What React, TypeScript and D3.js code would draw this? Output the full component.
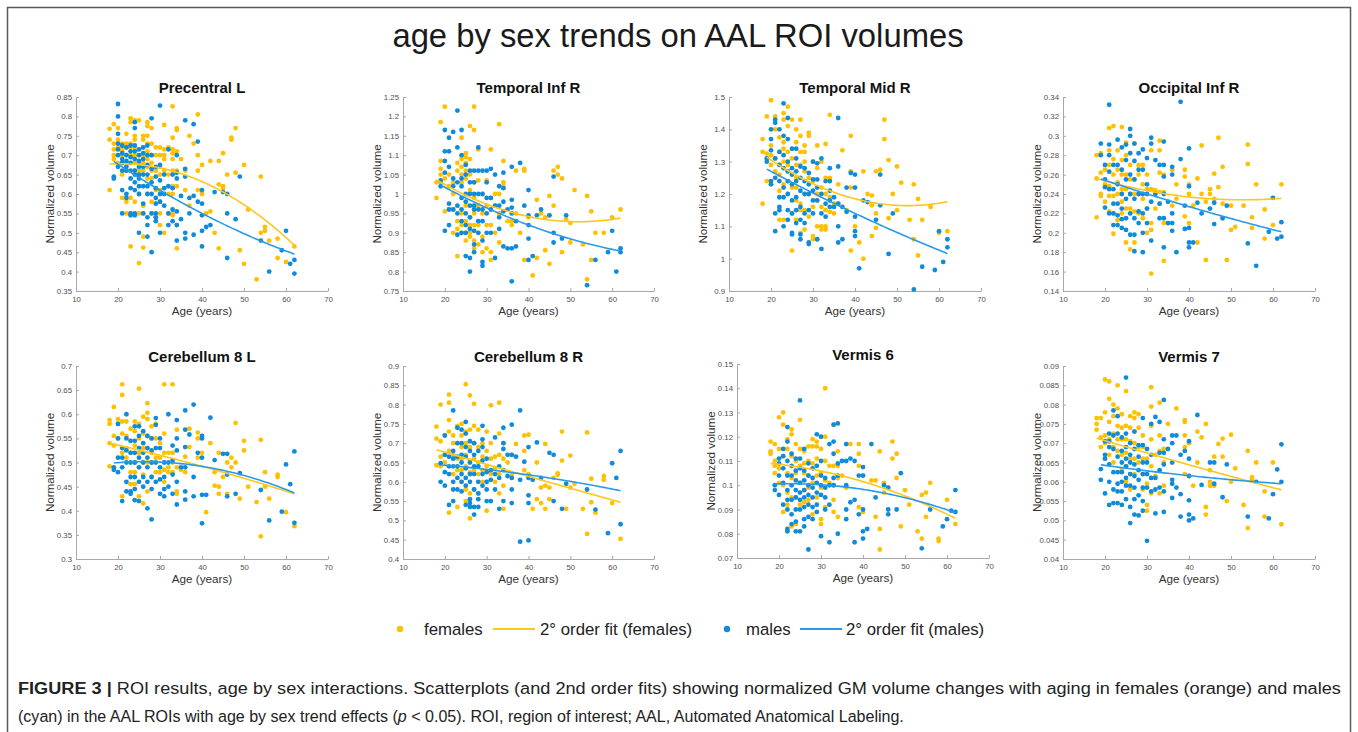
import React, { useEffect, useRef } from 'react';
import * as d3 from 'd3';

type Col = [number, number[]];
type Pt = [number, number];

// ---------- DATA (age, [normalized volumes]) ----------
const precentralF: Col[] = [
  [18, [.768, .74, .61]], [19, [.78, .73, .715, .70, .69]], [20, [.77, .74, .72, .70, .68]],
  [21, [.73, .72, .71, .70, .68, .65, .59]], [22, [.755, .73, .72, .70, .68, .66, .58, .55]],
  [23, [.795, .785, .73, .72, .70, .68, .59, .55, .465]], [24, [.79, .75, .74, .72, .70, .68, .66, .58]],
  [25, [.79, .70, .68, .66, .60, .55, .422]], [26, [.75, .74, .72, .70, .68, .66, .57, .55, .49, .462]],
  [27, [.785, .775, .75, .73, .71, .69, .67, .64, .60]], [28, [.77, .73, .70, .68, .66, .64, .58, .55]],
  [29, [.72, .70, .66, .61, .54]], [30, [.72, .70, .67, .65, .61, .58, .55, .52]],
  [31, [.778, .715, .70, .69, .66, .50]], [32, [.72, .65, .60, .55]],
  [33, [.826, .745, .715, .705, .69, .66, .62, .60, .55, .545]], [34, [.77, .765, .71, .66, .62, .52, .46]],
  [35, [.69]], [36, [.66, .61]], [37, [.75, .57]], [38, [.73]], [39, [.805, .70, .66, .61]],
  [40, [.675, .60]], [41, [.55]], [42, [.685, .555]], [43, [.50]], [44, [.685, .625, .46]],
  [45, [.705, .62, .615]], [46, [.65]], [47, [.745, .74]], [48, [.77, .655]], [49, [.455]],
  [50, [.675, .42]], [51, [.56]], [53, [.38]], [54, [.645, .50]], [55, [.515, .505]], [56, [.48]],
  [58, [.485, .435]], [60, [.425]], [62, [.465]],
];
const precentralM: Col[] = [
  [19, [.645, .64]], [20, [.832, .80, .755, .73, .715, .70, .67]], [21, [.725, .705, .69, .68, .66, .61, .55]],
  [22, [.72, .70, .685, .67, .66, .60, .59]], [23, [.725, .71, .695, .68, .66, .64, .615, .55, .545]],
  [24, [.785, .77, .725, .71, .69, .66, .65, .63, .61, .55, .545]], [25, [.715, .70, .685, .67, .65, .64, .62, .60, .50]],
  [26, [.72, .705, .69, .67, .65, .62, .575, .55]], [27, [.725, .70, .675, .65, .62, .60, .54, .52, .49]],
  [28, [.795, .70, .665, .63, .60, .55, .45]], [29, [.67, .645, .615, .59, .575, .55, .54, .53]],
  [30, [.828, .675, .635, .60, .58, .50]], [31, [.65, .615, .60, .57]], [32, [.715, .62, .55, .52]],
  [33, [.65, .615, .56, .53]], [34, [.70, .655, .64, .555, .52, .48]], [35, [.595, .535]],
  [36, [.79, .665, .645, .50, .485]], [37, [.59, .55]], [38, [.78, .595, .495]], [39, [.735, .58]],
  [40, [.61, .575, .545, .505, .465]], [41, [.515]], [42, [.52]], [43, [.605]], [45, [.605]],
  [46, [.60, .55, .435]], [48, [.535]], [49, [.645]], [54, [.48]], [56, [.40]], [59, [.455]],
  [60, [.505]], [61, [.42]], [62, [.43, .395]],
];

const tempInfF: Col[] = [
  [18, [1.03, .99]], [19, [1.185, 1.085, 1.065, 1.05, 1.03]], [20, [1.225, 1.04, .955]], [21, [1.05, 1.02, .96]],
  [22, [1.03, 1.0, .96, .90]], [23, [1.08, 1.06, .93, .91, .84]], [24, [1.145, 1.09, 1.07, 1.05, 1.03, .95, .92, .90]],
  [25, [1.105, 1.095, 1.08, 1.06, 1.04, .97, .93, .90, .88]], [26, [1.175, 1.09, 1.05, 1.01, .94, .92, .90, .89]],
  [27, [1.225, 1.165, 1.03, .99, .95, .92, .88, .86]], [28, [1.115, 1.035, .97, .92, .90, .87]],
  [29, [1.0, .95, .89, .85]], [30, [1.035, .97, .92, .86]], [31, [1.115, .99, .92, .85, .83]],
  [32, [1.0, .97, .90]], [33, [1.18, 1.0, .95, .875]], [34, [1.085, 1.03, 1.02]], [35, [.93]],
  [36, [.93, .92]], [37, [1.06, .95]], [38, [.90]], [39, [1.065, 1.06, .83]], [40, [.94]], [41, [.79]],
  [42, [.985, .835]], [43, [.95]], [44, [.94, .855]], [45, [.995, .945, .82]], [46, [1.06, .97]],
  [47, [1.07, 1.05]], [48, [1.04, .85]], [49, [.935]], [50, [.925, .875]], [51, [1.01]], [53, [.87]],
  [54, [.995, .78]], [55, [.955, .83]], [56, [.90]], [58, [.90]], [60, [.94]], [62, [.96]],
];
const tempInfM: Col[] = [
  [19, [1.035, 1.02]], [20, [1.165, 1.11, 1.085, 1.055, .905]], [21, [1.145, 1.11, 1.07, .975, .96, .92]],
  [22, [1.16, 1.04, 1.02, .96]], [23, [1.215, 1.12, 1.03, .97, .95, .895]],
  [24, [1.165, 1.10, 1.04, 1.02, .99, .96, .93, .90]], [25, [1.075, 1.05, 1.0, .98, .95, .92, .90, .84]],
  [26, [1.06, 1.03, 1.0, .97, .94, .91, .835, .80]], [27, [1.06, 1.03, 1.0, .97, .96, .905, .87, .85]],
  [28, [1.12, 1.06, 1.0, .96, .93, .90]], [29, [1.06, 1.0, .96, .93, .88, .825, .815]],
  [30, [1.06, 1.03, .99, .95, .90]], [31, [1.065, .99, .96, .90]], [32, [1.05, .97, .835]],
  [33, [1.02, .97, .94, .91]], [34, [1.055, 1.015, .98, .955, .865]], [35, [.96, .86]],
  [36, [1.07, .985, .965, .95, .86, .775]], [37, [.93, .865]], [38, [1.08]], [39, [.97]],
  [40, [1.01, .945, .92, .885, .83]], [41, [.84]], [42, [.945]], [43, [.96]], [45, [.945]],
  [46, [1.045, .90, .875]], [48, [.885]], [49, [.945]], [54, [.765]], [56, [.83]], [59, [.85]],
  [60, [.905]], [61, [.80]], [62, [.86, .85]],
];

const tempMidF: Col[] = [
  [18, [1.37, 1.33, 1.17]], [19, [1.44, 1.325, 1.31, 1.24]], [20, [1.49, 1.35, 1.32, 1.29, 1.23]],
  [21, [1.44, 1.40, 1.31, 1.27]], [22, [1.375, 1.33, 1.29, 1.26, 1.21, 1.12]],
  [23, [1.45, 1.43, 1.36, 1.34, 1.30, 1.23, 1.12]], [24, [1.47, 1.41, 1.33, 1.29, 1.27, 1.24, 1.20]],
  [25, [1.43, 1.31, 1.26, 1.22, 1.14, 1.025]], [26, [1.40, 1.36, 1.29, 1.25, 1.22, 1.18, 1.12]],
  [27, [1.43, 1.38, 1.33, 1.29, 1.17, 1.15, 1.08]], [28, [1.35, 1.33, 1.30, 1.27, 1.20, 1.15, 1.09]],
  [29, [1.39, 1.38, 1.25, 1.20, 1.13]], [30, [1.30, 1.24, 1.16, 1.07, 1.06]],
  [31, [1.35, 1.28, 1.20, 1.18, 1.10, 1.06]], [32, [1.30, 1.22, 1.16, 1.10, 1.09]],
  [33, [1.355, 1.25, 1.20, 1.15, 1.10, 1.09]], [34, [1.445, 1.25, 1.24, 1.19, 1.145]], [35, [1.17, 1.14]],
  [36, [1.23, 1.17]], [37, [1.335]], [38, [1.15]], [39, [1.38, 1.27, 1.22, 1.025]], [40, [1.10]],
  [41, [1.05]], [42, [1.27, 1.0]], [43, [1.20]], [44, [1.195, 1.165, 1.07]], [45, [1.27, 1.14, 1.095]],
  [46, [1.275]], [47, [1.43, 1.37]], [48, [1.305, 1.125]], [49, [1.20]], [50, [1.285, 1.15]], [51, [1.235]],
  [53, [1.12]], [54, [1.23, 1.06]], [55, [1.185, 1.01]], [56, [1.12]], [58, [1.16]], [60, [1.08]], [62, [1.085]],
];
const tempMidM: Col[] = [
  [19, [1.31, 1.30]], [20, [1.40, 1.37, 1.335, 1.24, 1.23]], [21, [1.43, 1.42, 1.31, 1.25, 1.14, 1.085]],
  [22, [1.40, 1.33, 1.29, 1.24, 1.19, 1.16, 1.15]], [23, [1.48, 1.38, 1.32, 1.28, 1.22, 1.19, 1.10]],
  [24, [1.435, 1.37, 1.30, 1.27, 1.24, 1.20, 1.15, 1.12]], [25, [1.34, 1.28, 1.26, 1.23, 1.18, 1.14, 1.08, 1.075]],
  [26, [1.34, 1.31, 1.27, 1.24, 1.19, 1.15, 1.11]], [27, [1.285, 1.25, 1.21, 1.16, 1.12, 1.075, 1.06]],
  [28, [1.28, 1.24, 1.20, 1.14, 1.11]], [29, [1.265, 1.23, 1.20, 1.15, 1.05, 1.045]],
  [30, [1.30, 1.245, 1.21, 1.18, 1.14]], [31, [1.295, 1.245, 1.22, 1.18, 1.06]], [32, [1.31, 1.20, 1.14, 1.03]],
  [33, [1.24, 1.17, 1.13]], [34, [1.28, 1.24, 1.21, 1.18, 1.16]], [35, [1.19, 1.16]],
  [36, [1.435, 1.285, 1.17, 1.10, 1.05]], [37, [1.16, 1.06]], [38, [1.22, 1.145]], [39, [1.265]],
  [40, [1.26, 1.22, 1.13, 1.085, 1.07]], [41, [.97]], [42, [1.18]], [43, [1.175]], [45, [1.12]],
  [46, [1.26, 1.165]], [48, [1.015]], [49, [1.14]], [54, [.905]], [56, [.975]], [59, [.965]],
  [60, [1.085]], [61, [.99]], [62, [1.06, 1.035]],
];

const occInfF: Col[] = [
  [18, [.28, .256, .216]], [19, [.282, .262, .24, .238]], [20, [.265, .25, .232]],
  [21, [.308, .285, .27, .248, .238, .222]], [22, [.31, .276, .26, .238, .22, .199]],
  [23, [.285, .265, .252, .24, .213]], [24, [.309, .275, .26, .245, .232, .22]],
  [25, [.293, .28, .26, .245, .225, .19]], [26, [.27, .255, .24, .225, .183]],
  [27, [.292, .255, .24, .222, .19]], [28, [.27, .26, .24, .22]], [29, [.27, .25, .235, .215]],
  [30, [.26, .245, .225, .20]], [31, [.285, .245, .21, .203, .158]], [32, [.244, .225]],
  [33, [.295, .285, .262, .242, .23]], [34, [.26, .242, .21, .171]], [35, [.21]], [36, [.265, .228]],
  [37, [.25, .235]], [39, [.265, .258, .217]], [40, [.25, .24, .21]], [41, [.228]], [42, [.256, .19]],
  [43, [.29, .24]], [44, [.232, .172]], [45, [.245, .24]], [46, [.261, .235]], [47, [.298, .247]],
  [48, [.268, .23]], [49, [.172]], [50, [.228, .203]], [51, [.206]], [53, [.228]], [54, [.291, .271]],
  [55, [.216, .205]], [56, [.25]], [58, [.224, .194]], [60, [.208]], [62, [.25]],
];
const occInfM: Col[] = [
  [19, [.292, .28]], [20, [.27, .255, .247, .226]], [21, [.332, .291, .28, .263, .245, .22]],
  [22, [.27, .245, .23, .22, .208]], [23, [.296, .27, .25, .23, .218, .208]],
  [24, [.288, .265, .24, .225, .214, .205]], [25, [.291, .275, .255, .235, .215, .203]],
  [26, [.307, .30, .282, .26, .24, .22, .198]], [27, [.292, .274, .255, .235, .215, .198, .181]],
  [28, [.282, .265, .24, .222, .21]], [29, [.286, .265, .24, .22, .20, .18]], [30, [.277, .25, .24, .225, .21]],
  [31, [.298, .292, .232, .192]], [32, [.275, .24]], [33, [.27, .23, .215]],
  [34, [.294, .27, .258, .24, .215, .185]], [35, [.232, .21]], [36, [.268, .26, .22, .21, .202]],
  [37, [.18]], [38, [.335, .276]], [39, [.228, .204]], [40, [.287, .248, .205, .19, .185]], [41, [.19]],
  [42, [.231]], [43, [.22]], [45, [.225]], [46, [.231, .209]], [48, [.215]], [49, [.228]], [54, [.189]],
  [56, [.166]], [59, [.201]], [60, [.236]], [61, [.194]], [62, [.211, .196]],
];

const cer8LF: Col[] = [
  [18, [.588, .58, .54, .492]], [19, [.615, .555, .535]], [20, [.59, .58, .55]],
  [21, [.662, .64, .585, .56, .52, .43]], [22, [.585, .555, .53, .51]], [23, [.57, .545, .52, .48, .455]],
  [24, [.585, .565, .535, .50, .48, .455]], [25, [.653, .58, .55, .52, .49, .43]],
  [26, [.595, .56, .53, .50, .475, .415]], [27, [.623, .603, .59, .555, .53, .50, .44]],
  [28, [.575, .55, .52, .50, .47]], [29, [.58, .55, .51, .48]], [30, [.54, .51, .48]],
  [31, [.662, .56, .52, .485, .46]], [32, [.52, .49, .48]], [33, [.662, .52, .50, .48]],
  [34, [.568, .49, .44, .435]], [35, [.485]], [36, [.512, .48]], [37, [.57, .532]], [39, [.562, .55, .51]],
  [40, [.52]], [41, [.397]], [42, [.54]], [43, [.48, .452]], [44, [.52, .45, .435]], [45, [.47]],
  [46, [.50, .435]], [47, [.51, .49]], [48, [.582, .50]], [49, [.425]], [50, [.545, .525]], [51, [.45]],
  [53, [.418]], [54, [.547, .347]], [55, [.48, .45]], [56, [.425]], [58, [.475, .47]], [60, [.397]], [62, [.368]],
];
const cer8LM: Col[] = [
  [19, [.49, .485]], [20, [.58, .55, .51, .48]], [21, [.53, .51, .49, .42]], [22, [.60, .55, .525, .50, .46, .44]],
  [23, [.545, .52, .50, .47, .44, .435]], [24, [.575, .545, .52, .50, .47, .445, .422]],
  [25, [.575, .555, .53, .51, .49, .46, .42]], [26, [.565, .54, .52, .50, .47, .45]],
  [27, [.555, .53, .51, .49, .46, .405]], [28, [.55, .525, .50, .47, .445, .382]],
  [29, [.592, .578, .53, .50, .46]], [30, [.55, .53, .49, .465, .435]], [31, [.50, .47, .445, .43]],
  [32, [.60, .50, .45]], [33, [.535, .505, .475, .435]], [34, [.588, .55, .525, .46, .413]], [35, [.49]],
  [36, [.608, .568, .532, .49, .44, .423]], [37, [.558]], [38, [.62, .47, .43]], [39, [.52]],
  [40, [.555, .55, .51, .433, .374]], [41, [.433]], [42, [.593]], [43, [.505]], [45, [.518]],
  [46, [.518, .475, .43]], [48, [.435]], [49, [.478]], [54, [.443]], [56, [.38]], [59, [.398]],
  [60, [.496]], [61, [.455]], [62, [.523, .375]],
];

const cer8RF: Col[] = [
  [18, [.743, .712, .643]], [19, [.80, .705, .665, .64]], [20, [.72, .67, .65]],
  [21, [.826, .805, .76, .73, .68, .52]], [22, [.72, .70, .67, .62]], [23, [.745, .70, .66, .63, .535]],
  [24, [.75, .72, .69, .66, .63, .60]], [25, [.853, .73, .70, .67, .64, .58, .55]],
  [26, [.824, .735, .69, .655, .625, .57, .505]], [27, [.802, .745, .70, .66, .63, .58]],
  [28, [.735, .69, .65, .62, .57]], [29, [.70, .665, .63, .60]], [30, [.73, .68, .64, .60, .525]],
  [31, [.798, .70, .66, .62]], [32, [.665, .635, .60]], [33, [.805, .725, .67, .62, .57]],
  [34, [.70, .66, .59, .53]], [35, [.65]], [36, [.67, .62]], [37, [.698]], [39, [.72, .68, .63]],
  [40, [.722, .62]], [41, [.53]], [42, [.65, .555]], [43, [.585, .545]], [44, [.698, .59, .53]],
  [45, [.585, .555]], [46, [.61]], [47, [.622, .618]], [48, [.73, .655]], [49, [.53]], [50, [.668, .585]],
  [51, [.595]], [53, [.53]], [54, [.728, .465]], [55, [.608, .547]], [56, [.52]], [58, [.615, .605]],
  [60, [.545]], [62, [.452]],
];
const cer8RM: Col[] = [
  [19, [.648, .60]], [20, [.72, .67, .625, .59]], [21, [.665, .64, .62, .54]],
  [22, [.785, .68, .66, .64, .60, .58, .55]], [23, [.74, .70, .665, .64, .61, .58]],
  [24, [.735, .70, .67, .65, .62, .60, .575]], [25, [.755, .725, .69, .665, .635, .61, .59, .54]],
  [26, [.705, .68, .65, .62, .60, .555, .545, .535]], [27, [.70, .67, .64, .62, .58, .535, .515]],
  [28, [.68, .64, .60, .57, .555, .535]], [29, [.745, .71, .69, .655, .62, .59]],
  [30, [.66, .625, .60, .58, .55]], [31, [.63, .605, .55]], [32, [.715, .62, .58]], [33, [.64, .61, .53]],
  [34, [.74, .70, .685, .63, .55]], [35, [.67, .615]], [36, [.748, .67, .61, .58, .545]], [37, [.665]],
  [38, [.785, .605, .445]], [39, [.652]], [40, [.69, .61, .565, .545, .448]], [41, [.605]], [42, [.702]],
  [43, [.61]], [45, [.675]], [46, [.67, .55]], [48, [.53]], [49, [.595]], [54, [.58]], [56, [.528]],
  [59, [.467]], [60, [.648]], [61, [.61]], [62, [.68, .49]],
];

const vermis6F: Col[] = [
  [18, [.118, .114, .113]], [19, [.117, .11, .108, .105]], [20, [.128, .115, .107, .101]],
  [21, [.13, .125, .112, .10, .089]], [22, [.119, .115, .105, .097, .092]], [23, [.123, .121, .112, .103, .095, .083]],
  [24, [.117, .11, .105, .095, .084]], [25, [.127, .115, .108, .101, .092]], [26, [.114, .109, .105, .098, .093]],
  [27, [.116, .11, .104, .099, .094]], [28, [.119, .116, .109, .101, .088]], [29, [.118, .116, .111, .104, .095]],
  [30, [.115, .105, .099, .086, .084]], [31, [.14, .12, .11, .102, .091]], [32, [.108, .101]],
  [33, [.125, .108, .10, .094, .089]], [34, [.114, .108, .103, .087]], [35, [.104]], [36, [.099]],
  [37, [.117]], [39, [.117, .113, .108, .091]], [40, [.104, .089]], [42, [.102]], [43, [.102, .087]],
  [44, [.114, .082, .0735]], [45, [.101, .097]], [46, [.099]], [47, [.118, .111]], [48, [.113, .103]],
  [49, [.083]], [50, [.098]], [51, [.092]], [53, [.081]], [54, [.096, .078]], [55, [.097, .087]],
  [56, [.101]], [58, [.078, .077]], [60, [.094]], [62, [.084]],
];
const vermis6M: Col[] = [
  [19, [.10, .098]], [20, [.111, .109, .104, .096]], [21, [.115, .112, .107, .101, .092]],
  [22, [.124, .118, .11, .104, .098, .094, .09, .082, .081]], [23, [.113, .108, .104, .10, .094, .088, .084]],
  [24, [.111, .106, .102, .098, .095, .09, .085, .081]], [25, [.135, .111, .107, .101, .097, .094, .09, .081]],
  [26, [.115, .106, .102, .098, .095, .091, .086, .083]], [27, [.109, .104, .10, .096, .092, .087, .0735]],
  [28, [.107, .103, .099, .095, .091, .086]], [29, [.121, .108, .101, .097, .092, .089]],
  [30, [.12, .11, .104, .10, .096, .079]], [31, [.103, .099, .095, .09]], [32, [.117, .10, .092, .0765]],
  [33, [.125, .118, .113, .103, .10]], [34, [.1255, .109, .104, .08]], [35, [.11]],
  [36, [.117, .11, .10, .09, .086]], [37, [.111, .093]], [38, [.11, .094, .0765]], [39, [.104, .088]],
  [40, [.1075, .104, .09, .081, .078]], [41, [.082]], [42, [.117]], [43, [.095]], [45, [.10]],
  [46, [.099, .09, .088]], [48, [.09]], [49, [.105]], [54, [.074]], [56, [.09]], [59, [.083]],
  [60, [.086]], [61, [.0895]], [62, [.098, .089]],
];

const vermis7F: Col[] = [
  [18, [.0765, .075, .0735]], [19, [.0765, .0715, .069]], [20, [.0865, .078, .072, .07, .066]],
  [21, [.086, .0815, .0755, .071, .067]], [22, [.08, .077, .0725, .069, .065]], [23, [.085, .079, .0745, .071, .068]],
  [24, [.0775, .074, .071, .067, .063]], [25, [.0835, .0745, .071, .0675, .064, .06]],
  [26, [.077, .074, .0705, .066, .062, .058]], [27, [.078, .0765, .073, .07, .066, .062]],
  [28, [.0775, .074, .069, .065]], [29, [.072, .069, .066, .062, .058]], [30, [.066, .0595, .054, .0525]],
  [31, [.0845, .0795, .0745, .071, .064, .061, .057]], [32, [.067, .0615]], [33, [.0805, .072, .068, .057]],
  [34, [.0685, .065, .059]], [35, [.075]], [37, [.079]], [39, [.076, .0755, .072, .069, .062]],
  [40, [.07, .0615]], [41, [.059]], [42, [.073, .065]], [43, [.0715]], [44, [.075, .0535, .0515]],
  [45, [.063, .06, .059]], [46, [.0665, .059]], [47, [.0698]], [48, [.0712, .0665]], [49, [.055]],
  [50, [.0722, .06]], [51, [.0635]], [53, [.054]], [54, [.068, .048]], [55, [.0612, .0605]], [56, [.065]],
  [58, [.0575, .051]], [60, [.065]], [62, [.049]],
];
const vermis7M: Col[] = [
  [19, [.0633, .0605]], [20, [.0705, .067, .066, .057]], [21, [.0725, .0705, .069, .0645, .06, .054]],
  [22, [.0785, .072, .0685, .0625, .058, .0545]], [23, [.077, .0725, .0665, .0625, .0595, .0575, .0545]],
  [24, [.0715, .068, .065, .0625, .06, .0575, .054]], [25, [.087, .0725, .069, .066, .064, .061, .059, .0555]],
  [26, [.07, .067, .065, .062, .059, .0535, .0493]], [27, [.073, .0685, .0645, .0615, .0585, .0555, .0515]],
  [28, [.0695, .0665, .063, .0605, .0565, .0513]], [29, [.0765, .0695, .065, .062, .0585, .055, .0525]],
  [30, [.0685, .065, .062, .0585, .0447]], [31, [.075, .067, .061, .0575]], [32, [.0768, .061, .058, .0518]],
  [33, [.0755, .0675, .063, .0585]], [34, [.0812, .071, .0675, .0645, .0575, .0522]], [35, [.0685]],
  [36, [.072, .07, .065, .0605, .0595, .0558]], [37, [.072, .0585]], [38, [.067, .0568, .051]], [39, [.068]],
  [40, [.0705, .066, .0615, .0552, .0515, .05]], [41, [.0505]], [42, [.0773]], [43, [.0592]], [45, [.065]],
  [46, [.065, .0595]], [48, [.056]], [49, [.0645]], [54, [.051]], [56, [.06]], [59, [.0505]],
  [60, [.0568]], [61, [.0632]], [62, [.0697, .06]],
];

// 2nd-order fit curves, read at three ages each (start, 40, 62)
const fitsF: Pt[][] = [
  [[18, .677], [40, .632], [62, .468]],
  [[18, 1.037], [40, .942], [62, .938]],
  [[19, 1.314], [40, 1.185], [62, 1.176]],
  [[18, .256], [40, .237], [62, .2355]],
  [[18, .540], [40, .492], [62, .435]],
  [[18, .683], [40, .614], [62, .547]],
  [[18, .109], [40, .1015], [62, .0864]],
  [[18, .0713], [40, .0644], [62, .0579]],
];
const fitsM: Pt[][] = [
  [[19, .684], [40, .550], [62, .445]],
  [[19, 1.023], [40, .920], [62, .853]],
  [[19, 1.277], [40, 1.140], [62, 1.016]],
  [[19, .2555], [40, .227], [62, .201]],
  [[19, .499], [40, .492], [62, .437]],
  [[19, .644], [40, .618], [62, .577]],
  [[19, .1005], [40, .0983], [62, .0887]],
  [[19, .0644], [40, .0616], [62, .0595]],
];

const titles = ['Precentral L', 'Temporal Inf R', 'Temporal Mid R', 'Occipital Inf R',
  'Cerebellum 8 L', 'Cerebellum 8 R', 'Vermis 6', 'Vermis 7'];
const femaleData = [precentralF, tempInfF, tempMidF, occInfF, cer8LF, cer8RF, vermis6F, vermis7F];
const maleData = [precentralM, tempInfM, tempMidM, occInfM, cer8LM, cer8RM, vermis6M, vermis7M];
const yDomains: [number, number, number][] = [
  [0.35, 0.85, 0.05], [0.75, 1.25, 0.05], [0.9, 1.5, 0.1], [0.14, 0.34, 0.02],
  [0.3, 0.7, 0.05], [0.4, 0.9, 0.05], [0.07, 0.15, 0.01], [0.04, 0.09, 0.005],
];
const xTicks = [10, 20, 30, 40, 50, 60, 70];

// ---------- LAYOUT ----------
const boxes: [number, number, number, number][] = [
  [76, 97, 328, 291], [403, 97, 654, 291], [729, 97, 981, 291], [1063, 97, 1315, 291],
  [76, 366, 328, 559], [403, 366, 654, 559], [737, 364, 989, 558], [1063, 366, 1315, 559],
];
const F_COL = '#FFC000';
const M_COL = '#0E8BDB';
const F_LINE = '#FFC61E';
const M_LINE = '#2A9AE8';
const AX = '#a8a8a8';
const TICK_TXT = '#505050';
const FONT = 'Liberation Sans, Arial, Helvetica, sans-serif';

const flatten = (cols: Col[]): Pt[] => cols.flatMap(([a, vs]) => vs.map(v => [a, v] as Pt));
const quad = (p: Pt[]) => (x: number) => {
  const [[x0, y0], [x1, y1], [x2, y2]] = p;
  return y0 * ((x - x1) * (x - x2)) / ((x0 - x1) * (x0 - x2))
    + y1 * ((x - x0) * (x - x2)) / ((x1 - x0) * (x1 - x2))
    + y2 * ((x - x0) * (x - x1)) / ((x2 - x0) * (x2 - x1));
};
const fmt = (v: number) => String(+v.toFixed(4));

function Panel({ i }: { i: number }) {
  const gx = useRef<SVGGElement>(null);
  const gy = useRef<SVGGElement>(null);
  const [l, t, r, b] = boxes[i];
  const [y0, y1, step] = yDomains[i];
  const x = d3.scaleLinear().domain([10, 70]).range([l, r]);
  const y = d3.scaleLinear().domain([y0, y1]).range([b, t]);
  const yTicks = d3.range(0, Math.round((y1 - y0) / step) + 1).map(k => +(y0 + k * step).toFixed(4));

  useEffect(() => {
    const style = (g: d3.Selection<SVGGElement, unknown, null, undefined>) => {
      g.attr('font-size', 7.8).attr('font-family', FONT);
      g.select('.domain').attr('stroke', AX).attr('stroke-width', 1);
      g.selectAll('.tick line').attr('stroke', AX);
      g.selectAll('.tick text').attr('fill', TICK_TXT);
    };
    d3.select(gx.current!).call(
      d3.axisBottom(x).tickValues(xTicks).tickFormat(d => fmt(+d)).tickSizeInner(-3).tickSizeOuter(0).tickPadding(5)
    ).call(style);
    d3.select(gy.current!).call(
      d3.axisLeft(y).tickValues(yTicks).tickFormat(d => fmt(+d)).tickSizeInner(-3).tickSizeOuter(0).tickPadding(4)
    ).call(style);
  });

  const line = d3.line<Pt>().x(d => x(d[0])).y(d => y(d[1]));
  const curve = (p: Pt[]) => {
    const f = quad(p);
    const xs = d3.range(p[0][0], 62.001, 0.5);
    return line(xs.map(a => [a, f(a)] as Pt)) || '';
  };
  const fPts = flatten(femaleData[i]);
  const mPts = flatten(maleData[i]);
  const cx = (l + r) / 2;
  return (
    <g>
      <text x={cx} y={t - 4} textAnchor="middle" fontFamily={FONT} fontWeight="bold" fontSize={15} fill="#111">{titles[i]}</text>
      <g ref={gx} transform={`translate(0,${b})`} />
      <g ref={gy} transform={`translate(${l},0)`} />
      <text x={cx} y={b + 24} textAnchor="middle" fontFamily={FONT} fontSize={11.7} fill="#333">Age (years)</text>
      <text transform={`translate(${l - 22},${(t + b) / 2}) rotate(-90)`} textAnchor="middle" fontFamily={FONT} fontSize={11.6} fill="#333">Normalized volume</text>
      {fPts.map((d, k) => <circle key={'f' + k} cx={x(d[0])} cy={y(d[1])} r={2.4} fill={F_COL} />)}
      {mPts.map((d, k) => <circle key={'m' + k} cx={x(d[0])} cy={y(d[1])} r={2.4} fill={M_COL} />)}
      <path d={curve(fitsF[i])} fill="none" stroke={F_LINE} strokeWidth={1.6} />
      <path d={curve(fitsM[i])} fill="none" stroke={M_LINE} strokeWidth={1.6} />
    </g>
  );
}

function Caption() {
  const l1 = useRef<SVGTextElement>(null);
  const l2 = useRef<SVGTextElement>(null);
  useEffect(() => {
    const fit = (el: SVGTextElement | null, y: number, w: number) => {
      if (!el) return;
      el.removeAttribute('transform');
      const nat = el.getComputedTextLength();
      el.setAttribute('transform', `translate(18,${y}) scale(${w / nat},1)`);
    };
    fit(l1.current, 694, 1323);
    fit(l2.current, 722, 887);
  }, []);
  const st = { fontFamily: FONT, fontSize: 17, fill: '#222' } as const;
  return (
    <g>
      <text ref={l1} x={0} y={0} {...st}>
        <tspan fontWeight="bold">FIGURE 3 | </tspan>
        <tspan>ROI results, age by sex interactions. Scatterplots (and 2nd order fits) showing normalized GM volume changes with aging in females (orange) and males</tspan>
      </text>
      <text ref={l2} x={0} y={0} {...st}>
        <tspan>(cyan) in the AAL ROIs with age by sex trend effects (</tspan>
        <tspan fontStyle="italic">p</tspan>
        <tspan>{' < 0.05). ROI, region of interest; AAL, Automated Anatomical Labeling.'}</tspan>
      </text>
    </g>
  );
}

export default function App() {
  return (
    <svg width={1358} height={732} style={{ position: 'absolute', left: 0, top: 0, background: '#fff' }}>
      <rect x={0} y={0} width={1358} height={732} fill="#fff" />
      <rect x={7.5} y={7.5} width={1343} height={740} fill="none" stroke="#5a5a5a" strokeWidth={1.5} />
      <text x={678} y={47} textAnchor="middle" fontFamily={FONT} fontSize={32.8} fill="#1a1a1a">age by sex trends on AAL ROI volumes</text>
      {titles.map((_, i) => <Panel key={i} i={i} />)}
      <g fontFamily={FONT} fontSize={16.8} fill="#222">
        <circle cx={400} cy={629} r={3.2} fill={F_COL} />
        <text x={424} y={635}>females</text>
        <line x1={493} x2={535} y1={629} y2={629} stroke={F_LINE} strokeWidth={1.8} />
        <text x={540} y={635}>2° order fit (females)</text>
        <circle cx={727} cy={629} r={3.2} fill={M_COL} />
        <text x={746} y={635}>males</text>
        <line x1={800} x2={842} y1={629} y2={629} stroke={M_LINE} strokeWidth={1.8} />
        <text x={846} y={635}>2° order fit (males)</text>
      </g>
      <Caption />
    </svg>
  );
}
